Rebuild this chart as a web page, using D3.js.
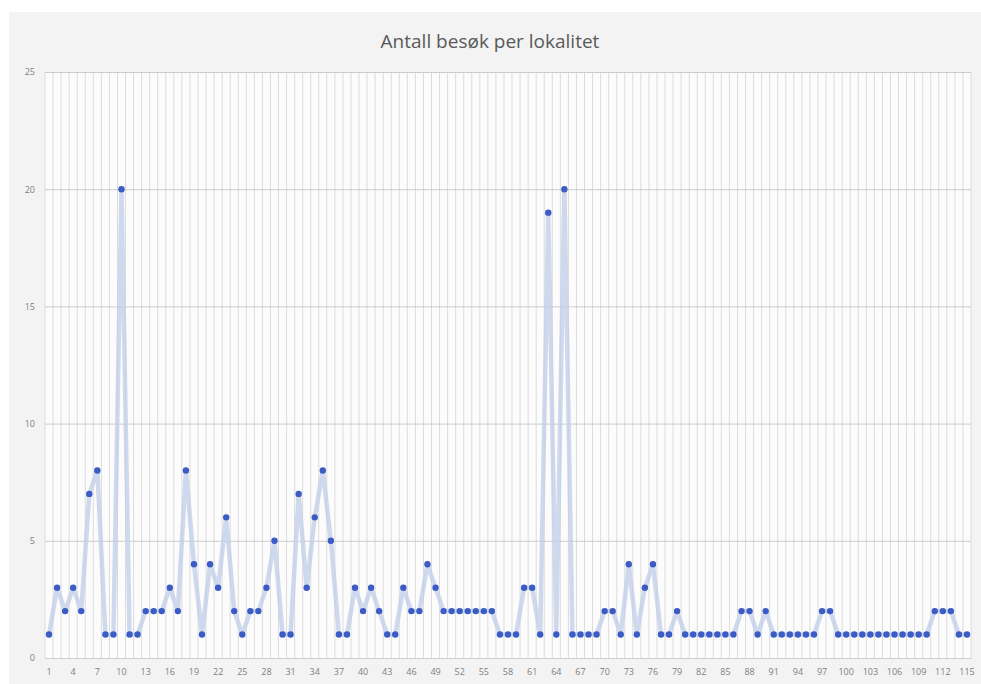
<!DOCTYPE html>
<html>
<head>
<meta charset="utf-8">
<script src="https://cdn.jsdelivr.net/npm/d3@7"></script>
<style>
  html, body { margin: 0; padding: 0; background: #ffffff; }
  svg { display: block; }
</style>
</head>
<body>
<svg id="chart" width="981" height="684"></svg>
<script>
const title = "Antall besøk per lokalitet";
const categories = d3.range(1, 116);
const values = [
  1, 3, 2, 3, 2, 7, 8, 1, 1, 20,
  1, 1, 2, 2, 2, 3, 2, 8, 4, 1,
  4, 3, 6, 2, 1, 2, 2, 3, 5, 1,
  1, 7, 3, 6, 8, 5, 1, 1, 3, 2,
  3, 2, 1, 1, 3, 2, 2, 4, 3, 2,
  2, 2, 2, 2, 2, 2, 1, 1, 1, 3,
  3, 1, 19, 1, 20, 1, 1, 1, 1, 2,
  2, 1, 4, 1, 3, 4, 1, 1, 2, 1,
  1, 1, 1, 1, 1, 1, 2, 2, 1, 2,
  1, 1, 1, 1, 1, 1, 2, 2, 1, 1,
  1, 1, 1, 1, 1, 1, 1, 1, 1, 1,
  2, 2, 2, 1, 1
];
const yTicks = [0, 5, 10, 15, 20, 25];
const xTickLabels = categories.filter((d, i) => i % 3 === 0);

const svg = d3.select("#chart");
const W = 981, H = 684;
const plot = { left: 45, right: 971, top: 72, bottom: 658 };

// chart background
svg.append("rect").attr("x", 9).attr("y", 12).attr("width", W - 9).attr("height", H - 12)
  .attr("fill", "#f3f3f3");
svg.append("rect").attr("x", plot.left).attr("y", plot.top)
  .attr("width", plot.right - plot.left).attr("height", plot.bottom - plot.top)
  .attr("fill", "#fcfcfc");

const x = d3.scaleBand().domain(categories).range([plot.left, plot.right]).padding(0);
const y = d3.scaleLinear().domain([0, 25]).range([plot.bottom, plot.top]);

// vertical gridlines at band boundaries
const vg = svg.append("g");
categories.forEach(c => {
  vg.append("line")
    .attr("x1", x(c)).attr("x2", x(c))
    .attr("y1", plot.top).attr("y2", plot.bottom)
    .attr("stroke", "#dcdcdc").attr("stroke-width", 1);
});
vg.append("line").attr("x1", plot.right).attr("x2", plot.right)
  .attr("y1", plot.top).attr("y2", plot.bottom)
  .attr("stroke", "#dcdcdc").attr("stroke-width", 1);

// horizontal gridlines
const yAxis = d3.axisLeft(y).tickValues(yTicks).tickSize(-(plot.right - plot.left)).tickPadding(10);
const gy = svg.append("g").attr("transform", `translate(${plot.left},0)`).call(yAxis);
gy.select(".domain").remove();
gy.selectAll(".tick line").attr("stroke", "#cccccc").attr("stroke-width", 1);
gy.selectAll(".tick text").attr("fill", "#808080").attr("font-size", 9)
  .attr("font-family", "'Open Sans', sans-serif");

// x axis
const xAxis = d3.axisBottom(x).tickValues(xTickLabels).tickSize(0).tickPadding(11);
const gx = svg.append("g").attr("transform", `translate(0,${plot.bottom})`).call(xAxis);
gx.select(".domain").attr("stroke", "#d0d0d0");
gx.selectAll(".tick text").attr("fill", "#808080").attr("font-size", 9)
  .attr("font-family", "'Open Sans', sans-serif");

// line
const cx = c => x(c) + x.bandwidth() / 2;
const line = d3.line().x((d, i) => cx(categories[i])).y(d => y(d));
svg.append("path").datum(values)
  .attr("d", line)
  .attr("fill", "none")
  .attr("stroke", "#c3cfea")
  .attr("stroke-opacity", 0.8)
  .attr("stroke-width", 4.5)
  .attr("stroke-linejoin", "round");

// markers
svg.append("g").selectAll("circle").data(values).join("circle")
  .attr("cx", (d, i) => cx(categories[i]))
  .attr("cy", d => y(d))
  .attr("r", 3.2)
  .attr("fill", "#3a5cc4");

// title
svg.append("text").attr("x", 490).attr("y", 48)
  .attr("text-anchor", "middle")
  .attr("font-family", "'Open Sans', sans-serif")
  .attr("font-size", 19)
  .attr("fill", "#595959")
  .text(title);
</script>
</body>
</html>
